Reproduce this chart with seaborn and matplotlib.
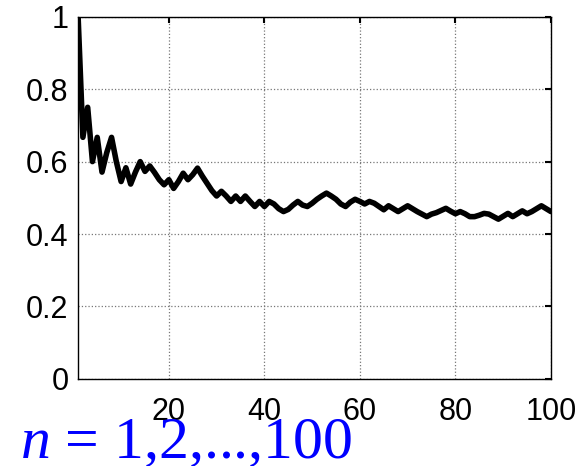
import matplotlib
matplotlib.use("Agg")
import numpy as np
import pandas as pd
import matplotlib.pyplot as plt
import seaborn as sns

# running proportion
n_values = list(range(1, 101))
proportion = [
    1.000, 0.667, 0.750, 0.600, 0.667, 0.571, 0.625, 0.667, 0.600, 0.545,
    0.583, 0.538, 0.571, 0.600, 0.573, 0.588, 0.570, 0.550, 0.536, 0.550,
    0.526, 0.545, 0.568, 0.550, 0.564, 0.582, 0.560, 0.540, 0.520, 0.505,
    0.518, 0.505, 0.490, 0.505, 0.490, 0.505, 0.490, 0.476, 0.490, 0.476,
    0.490, 0.483, 0.470, 0.462, 0.468, 0.480, 0.490, 0.480, 0.476, 0.485,
    0.496, 0.505, 0.513, 0.505, 0.496, 0.483, 0.476, 0.488, 0.496, 0.490,
    0.483, 0.490, 0.485, 0.476, 0.467, 0.478, 0.470, 0.462, 0.470, 0.478,
    0.470, 0.462, 0.455, 0.448, 0.455, 0.459, 0.465, 0.471, 0.463, 0.456,
    0.462, 0.456, 0.448, 0.448, 0.452, 0.457, 0.455, 0.448, 0.441, 0.449,
    0.457, 0.448, 0.456, 0.464, 0.456, 0.462, 0.470, 0.478, 0.470, 0.462,
]
x_ticks = [20, 40, 60, 80, 100]
y_ticks = [0, 0.2, 0.4, 0.6, 0.8, 1]
y_tick_labels = ["0", "0.2", "0.4", "0.6", "0.8", "1"]

sns.set_style("white")
plt.rcParams['font.family'] = ['Liberation Sans', 'DejaVu Sans']
plt.rcParams['mathtext.fontset'] = 'custom'
plt.rcParams['mathtext.rm'] = 'Liberation Serif'
plt.rcParams['mathtext.it'] = 'Liberation Serif:italic'

df = pd.DataFrame({'n': n_values, 'p': proportion})

fig = plt.figure(figsize=(5.83, 4.66), dpi=100)
ax = fig.add_axes([0.134, 0.187, 0.811, 0.777])

sns.lineplot(data=df, x='n', y='p', color='black', linewidth=4, ax=ax)

ax.set_xlim(1, 100)
ax.set_ylim(0, 1)
ax.set_xticks(x_ticks)
ax.set_yticks(y_ticks)
ax.set_yticklabels(y_tick_labels)
ax.set_xlabel('')
ax.set_ylabel('')

ax.grid(True, linestyle=':', color='#777777', linewidth=0.9)
for s in ax.spines.values():
    s.set_visible(True)
    s.set_color('black')
    s.set_linewidth(1.0)

ax.tick_params(axis='both', direction='in', length=4, width=1.5, color='black',
               top=True, right=True, labelsize=22, labelcolor='black')
ax.tick_params(axis='x', pad=13)
ax.tick_params(axis='y', pad=7)

fig.text(0.035, 0.018, r'$n$ = 1,2,...,100', color='blue', fontsize=43,
         family=['Liberation Serif', 'DejaVu Serif'], va='baseline')

fig.savefig('out.png', dpi=100)
